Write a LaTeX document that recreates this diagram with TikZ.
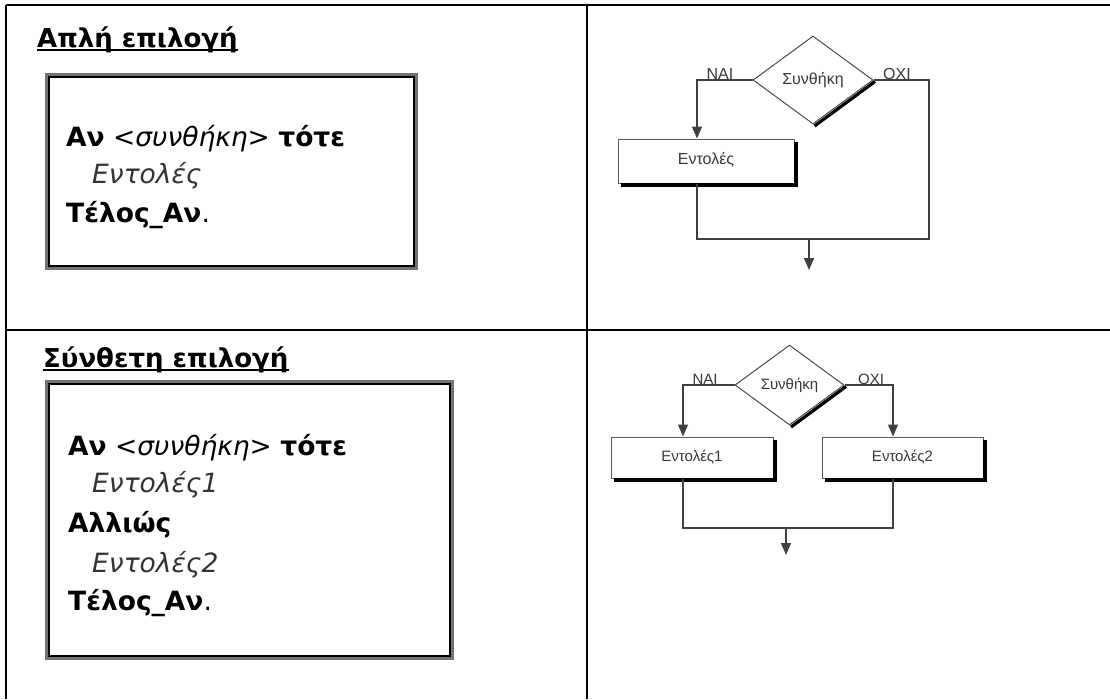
\documentclass[tikz,border=0pt]{standalone}
\usepackage{fontspec}
\setmainfont{DejaVu Sans}
\newfontfamily\arialf{Liberation Sans}
\usetikzlibrary{shapes.geometric,arrows.meta}
\definecolor{flowtext}{HTML}{3A3640}
\definecolor{softgray}{HTML}{333333}
\begin{document}
\begin{tikzpicture}[x=1pt,y=-1pt,
  tbl/.style={line width=1.6pt, black},
  frameout/.style={draw=black!55, line width=4.5pt},
  framein/.style={draw=black, line width=1.4pt},
  ttl/.style={inner sep=0pt, anchor=base west, font=\fontsize{26}{30}\selectfont\bfseries},
  body/.style={inner sep=0pt, anchor=base west, font=\fontsize{26.5}{30}\selectfont},
  uline/.style={line width=2pt, black},
  dec/.style={diamond, draw=black!70, line width=1pt, inner sep=0pt, text=flowtext},
  proc/.style={rectangle, draw=black!65, line width=1pt, inner sep=0pt, text=flowtext},
  flow/.style={draw=black!75, line width=1.3pt},
  arr/.style={flow, -{Triangle[length=12pt,width=10pt]}},
  shd/.style={line width=3.2pt, black},
  lab/.style={inner sep=0pt, anchor=base, text=flowtext}
]
\useasboundingbox (0,0) rectangle (1110,699);
\fill[white] (0,0) rectangle (1110,699);

% table grid
\draw[tbl] (6,5) -- (1110,5);
\draw[tbl] (6,330) -- (1110,330);
\draw[tbl] (6,5) -- (6,699);
\draw[tbl] (587,5) -- (587,699);

% ---------- top-left cell ----------
\node[ttl] (t1) at (37,47) {Απλή επιλογή};
\draw[uline] ([yshift=-3pt]t1.base west) -- ([yshift=-3pt]t1.base east);
\draw[frameout] (47,75) rectangle (416,268);
\draw[framein] (49,77) rectangle (414,266);
\node[body] (a1) at (66,146) {\textbf{Αν} <\textit{συνθήκη}> \textbf{τότε}};
\node[body, text=softgray] (a2) at (92,183) {\textit{Εντολές}};
\node[body] (a3) at (66,222) {\textbf{Τέλος\_Αν}.};

% ---------- bottom-left cell ----------
\node[ttl] (t2) at (43,367) {Σύνθετη επιλογή};
\draw[uline] ([yshift=-3pt]t2.base west) -- ([yshift=-3pt]t2.base east);
\draw[frameout] (47,382) rectangle (452,658);
\draw[framein] (49,384) rectangle (450,656);
\node[body] (c1) at (68,455) {\textbf{Αν} <\textit{συνθήκη}> \textbf{τότε}};
\node[body, text=softgray] (c2) at (92,492) {\textit{Εντολές1}};
\node[body] (c3) at (68,532) {\textbf{Αλλιώς}};
\node[body, text=softgray] (c4) at (92,572) {\textit{Εντολές2}};
\node[body] (c5) at (68,610) {\textbf{Τέλος\_Αν}.};

% ---------- top-right flowchart ----------
\begin{scope}[font=\arialf\fontsize{16}{18}\selectfont]
\node[dec, minimum width=120pt, minimum height=88pt] (d1) at (813,80) {\raisebox{3pt}{Συνθήκη}};
\draw[shd] ([xshift=1.5pt,yshift=-1.5pt]d1.east) -- ([xshift=1.5pt,yshift=-1.5pt]d1.south);
\node[proc, minimum width=176pt, minimum height=44pt] (b1) at (706,161) {\raisebox{5pt}{Εντολές}};
\draw[shd] ([xshift=1.5pt,yshift=-3pt]b1.north east) -- ([xshift=1.5pt,yshift=-1.5pt]b1.south east) -- ([xshift=3pt,yshift=-1.5pt]b1.south west);
\node[lab] (y1) at (720,79) {NAI};
\node[lab] (n1) at (897,79) {OXI};
\coordinate (r1) at (929,80);
\coordinate (jr1) at (929,239);
\coordinate (jl1) at (697,239);
\coordinate (m1) at (809,239);
\coordinate (e1) at (809,270);
\draw[arr] (d1.west) -| ([xshift=-9pt]b1.north);
\draw[flow] (d1.east) -- (r1) -- (jr1) -- (jl1) -- ([xshift=-9pt]b1.south);
\draw[arr] (m1) -- (e1);
\end{scope}

% ---------- bottom-right flowchart ----------
\begin{scope}[font=\arialf\fontsize{15}{17}\selectfont]
\node[dec, minimum width=109pt, minimum height=80pt] (d2) at (789.5,385) {\raisebox{3pt}{Συνθήκη}};
\draw[shd] ([xshift=1.5pt,yshift=-1.5pt]d2.east) -- ([xshift=1.5pt,yshift=-1.5pt]d2.south);
\node[proc, minimum width=162pt, minimum height=41pt] (b21) at (692,457.5) {\raisebox{3pt}{Εντολές1}};
\node[proc, minimum width=161pt, minimum height=41pt] (b22) at (902.5,457.5) {Εντολές2};
\draw[shd] ([xshift=1.5pt,yshift=-3pt]b21.north east) -- ([xshift=1.5pt,yshift=-1.5pt]b21.south east) -- ([xshift=3pt,yshift=-1.5pt]b21.south west);
\draw[shd] ([xshift=1.5pt,yshift=-3pt]b22.north east) -- ([xshift=1.5pt,yshift=-1.5pt]b22.south east) -- ([xshift=3pt,yshift=-1.5pt]b22.south west);
\node[lab] (y2) at (705,384) {NAI};
\node[lab] (n2) at (871,384) {OXI};
\coordinate (jl2) at (683,528);
\coordinate (jr2) at (893,528);
\coordinate (m2) at (786,528);
\coordinate (e2) at (786,555);
\draw[arr] (d2.west) -| ([xshift=-9pt]b21.north);
\draw[arr] (d2.east) -| ([xshift=-9.5pt]b22.north);
\draw[flow] ([xshift=-9pt]b21.south) -- (jl2) -- (jr2) -- ([xshift=-9.5pt]b22.south);
\draw[arr] (m2) -- (e2);
\end{scope}
\end{tikzpicture}
\end{document}
